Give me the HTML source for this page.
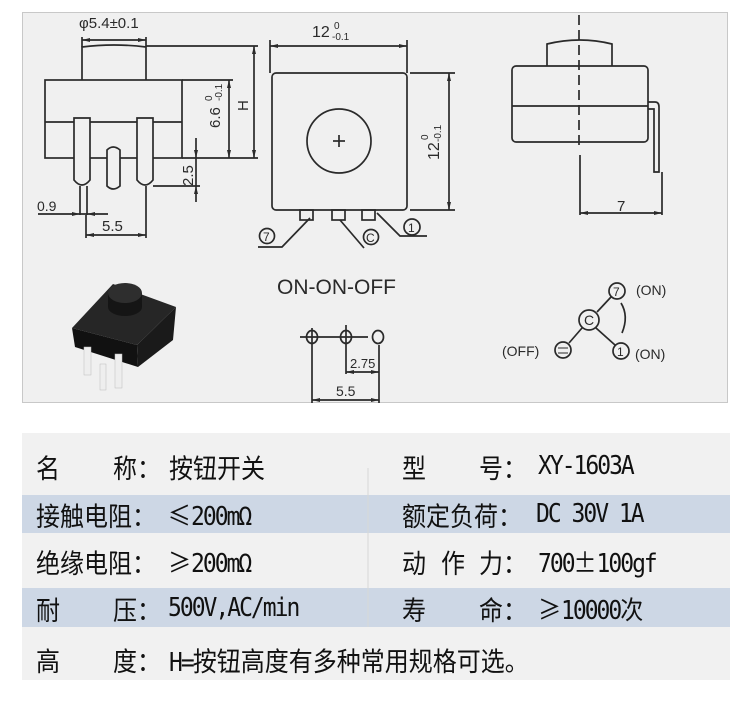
<!DOCTYPE html>
<html><head><meta charset="utf-8"><style>
body{margin:0;background:#fff;width:750px;height:709px;overflow:hidden;position:relative;font-family:"Liberation Sans","Noto Sans CJK SC",sans-serif}
svg{position:absolute;left:0;top:0}
.t{position:absolute;font-family:"Noto Sans CJK SC","WenQuanYi Zen Hei",sans-serif;font-size:24px;color:#111;line-height:1;transform:scaleY(1.12);transform-origin:left center;white-space:nowrap}
.l{font-family:"DejaVu Sans Mono","Liberation Mono","Noto Sans CJK SC",monospace;letter-spacing:-2px;font-size:23px}
.c{font-family:"Noto Sans CJK SC",sans-serif;letter-spacing:0;font-size:23px}
</style></head><body>
<svg width="750" height="709" viewBox="0 0 750 709">
<rect x="22.5" y="12.5" width="705" height="390" fill="#f0f0f0" stroke="#c8c8c8"/>
<g stroke="#2a2a2a" stroke-width="1.7" fill="none">
<path d="M82 80 V47 Q114 43 146 47 V80"/>
<rect x="45" y="80" width="137" height="78"/>
<line x1="45" y1="122" x2="74" y2="122"/><line x1="90" y1="122" x2="137" y2="122"/><line x1="153" y1="122" x2="182" y2="122"/>
<path d="M74 118 V180 Q82 190 90 180 V118 Z" fill="#f0f0f0"/>
<path d="M137 118 V180 Q145 190 153 180 V118 Z" fill="#f0f0f0"/>
<path d="M107 186 V150 Q113 144 120 150 V186 Q113 192 107 186 Z" fill="#f0f0f0"/>
<line x1="80" y1="186" x2="80" y2="215"/><line x1="87" y1="186" x2="87" y2="215"/>
<line x1="82" y1="37" x2="82" y2="47"/><line x1="146" y1="37" x2="146" y2="47"/><line x1="82" y1="40" x2="146" y2="40"/>
<line x1="146" y1="46" x2="258" y2="46"/><line x1="182" y1="158" x2="258" y2="158"/><line x1="254" y1="46" x2="254" y2="158"/>
<line x1="182" y1="80" x2="233" y2="80"/><line x1="229" y1="80" x2="229" y2="158"/>
<line x1="196" y1="138" x2="196" y2="202"/><line x1="153" y1="186" x2="200" y2="186"/>
<line x1="38" y1="214" x2="108" y2="214"/>
<line x1="86" y1="215" x2="86" y2="238"/><line x1="146" y1="186" x2="146" y2="238"/><line x1="86" y1="235" x2="146" y2="235"/>
<rect x="272" y="73" width="135" height="137" rx="4"/>
<circle cx="339" cy="141" r="32"/>
<line x1="333" y1="141" x2="345" y2="141"/><line x1="339" y1="135" x2="339" y2="147"/>
<line x1="270" y1="40" x2="270" y2="73"/><line x1="407" y1="40" x2="407" y2="73"/><line x1="270" y1="46" x2="407" y2="46"/>
<line x1="410" y1="73" x2="455" y2="73"/><line x1="410" y1="210" x2="455" y2="210"/><line x1="449" y1="73" x2="449" y2="210"/>
<rect x="300" y="210" width="13" height="10"/><rect x="332" y="210" width="13" height="10"/><rect x="362" y="210" width="13" height="10"/>
<circle cx="267" cy="236" r="7.5"/><circle cx="371" cy="237" r="7.5"/><circle cx="412" cy="227" r="8"/>
<polyline points="258,247 282,247 310,218"/>
<line x1="340" y1="220" x2="364" y2="248"/>
<polyline points="377,213 400,236 427,236"/>
<line x1="300" y1="337" x2="368" y2="337"/>
<ellipse cx="312" cy="337" rx="5.5" ry="6.5"/><ellipse cx="346" cy="337" rx="5.5" ry="6.5"/><ellipse cx="378" cy="337" rx="5.5" ry="6.5"/>
<line x1="312" y1="328" x2="312" y2="403"/><line x1="346" y1="325" x2="346" y2="374"/><line x1="379" y1="345" x2="379" y2="403"/>
<line x1="346" y1="372" x2="379" y2="372"/><line x1="312" y1="400" x2="379" y2="400"/>
<path d="M547 66 V44 Q580 36 612 44 V66"/>
<rect x="512" y="66" width="136" height="76" rx="4"/>
<line x1="512" y1="106" x2="648" y2="106"/>
<line x1="579" y1="15" x2="579" y2="145" stroke-dasharray="10,5"/>
<path d="M648 102 H655 Q659 102 659 107 V172 H654 V109 H648"/>
<line x1="580" y1="155" x2="580" y2="215"/><line x1="662" y1="172" x2="662" y2="215"/><line x1="580" y1="213" x2="662" y2="213"/>
<circle cx="617" cy="291" r="8"/><circle cx="589" cy="320" r="10"/><circle cx="563" cy="350" r="8"/><circle cx="621" cy="351" r="8"/>
<line x1="611" y1="297" x2="597" y2="312"/><line x1="582" y1="328" x2="569" y2="343"/><line x1="596" y1="328" x2="615" y2="345"/>
<path d="M621 303 Q629 316 622 333"/>
<line x1="558" y1="348" x2="568" y2="348" stroke-width="1"/><line x1="558" y1="353" x2="568" y2="353" stroke-width="1"/>
</g>
<g fill="#2a2a2a">
<polygon points="82,40 90,38 90,42"/><polygon points="146,40 138,38 138,42"/>
<polygon points="254,46 252,54 256,54"/><polygon points="254,158 252,150 256,150"/>
<polygon points="229,80 227,88 231,88"/><polygon points="229,158 227,150 231,150"/>
<polygon points="196,158 194,150 198,150"/><polygon points="196,186 194,194 198,194"/>
<polygon points="86,235 94,233 94,237"/><polygon points="146,235 138,233 138,237"/>
<polygon points="80,214 72,212 72,216"/><polygon points="87,214 95,212 95,216"/>
<polygon points="270,46 278,44 278,48"/><polygon points="407,46 399,44 399,48"/>
<polygon points="449,73 447,81 451,81"/><polygon points="449,210 447,202 451,202"/>
<polygon points="580,213 588,211 588,215"/><polygon points="662,213 654,211 654,215"/>
<polygon points="346,372 354,370 354,374"/><polygon points="379,372 371,370 371,374"/>
<polygon points="312,400 320,398 320,402"/><polygon points="379,400 371,398 371,402"/>
</g>
<g fill="#2a2a2a" font-family="Liberation Sans,sans-serif">
<text x="79" y="28" font-size="15">φ5.4±0.1</text>
<text x="37" y="211" font-size="14">0.9</text>
<text x="102" y="231" font-size="15">5.5</text>
<text transform="translate(248,111) rotate(-90)" font-size="15">H</text>
<text transform="translate(220,128) rotate(-90)" font-size="15">6.6</text>
<text transform="translate(212,101) rotate(-90)" font-size="10">0</text>
<text transform="translate(222,101) rotate(-90)" font-size="10">-0.1</text>
<text transform="translate(193,186) rotate(-90)" font-size="15">2.5</text>
<text x="312" y="37" font-size="16">12</text><text x="334" y="29" font-size="10">0</text><text x="332" y="40" font-size="10">-0.1</text>
<text transform="translate(439,160) rotate(-90)" font-size="16">12</text>
<text transform="translate(428,140) rotate(-90)" font-size="10">0</text>
<text transform="translate(441,142) rotate(-90)" font-size="10">-0.1</text>
<text x="263" y="241" font-size="12">7</text><text x="366" y="242" font-size="12">C</text><text x="408" y="232" font-size="12">1</text>
<text x="277" y="294" font-size="21">ON-ON-OFF</text>
<text x="350" y="368" font-size="13">2.75</text>
<text x="336" y="396" font-size="14">5.5</text>
<text x="617" y="211" font-size="15">7</text>
<text x="613" y="296" font-size="12">7</text><text x="636" y="295" font-size="14">(ON)</text>
<text x="584" y="325" font-size="14">C</text>
<text x="502" y="356" font-size="14">(OFF)</text>
<text x="617" y="356" font-size="12">1</text><text x="635" y="359" font-size="14">(ON)</text>
</g>
<g>
<polygon points="72,328 113,284 176,307 137,345" fill="#262626"/>
<polygon points="72,328 137,345 138,367 75,347" fill="#111"/>
<polygon points="137,345 176,307 173,340 138,367" fill="#1a1a1a"/>
<rect x="108" y="293" width="34" height="14" fill="#151515"/>
<ellipse cx="125" cy="307" rx="17" ry="9" fill="#151515"/>
<ellipse cx="125" cy="293" rx="17" ry="10" fill="#2e2e2e"/>
<rect x="84" y="347" width="7" height="28" fill="#eee" stroke="#bbb" stroke-width="0.5"/>
<rect x="100" y="364" width="6" height="26" fill="#eee" stroke="#bbb" stroke-width="0.5"/>
<rect x="115" y="354" width="7" height="34" fill="#eee" stroke="#bbb" stroke-width="0.5"/>
</g>
<rect x="22" y="433" width="708" height="247" fill="#f1f1f1"/>
<rect x="22" y="495" width="708" height="38" fill="#cdd7e5"/>
<rect x="22" y="588" width="708" height="39" fill="#cdd7e5"/>
<line x1="368" y1="468" x2="368" y2="627" stroke="#d8d8d8"/>
</svg>
<div class="t" style="left:36px;top:455px">名</div><div class="t" style="left:113px;top:455px">称：</div><div class="t" style="left:169px;top:455px">按钮开关</div>
<div class="t" style="left:402px;top:455px">型</div><div class="t" style="left:479px;top:455px">号：</div><div class="t l" style="left:538px;top:455px">XY-1603A</div>
<div class="t" style="left:36px;top:503px">接触电阻：</div><div class="t l" style="left:168px;top:503px"><span class="c">≤</span>200mΩ</div>
<div class="t" style="left:402px;top:503px">额定负荷：</div><div class="t l" style="left:536px;top:503px">DC 30V 1A</div>
<div class="t" style="left:36px;top:550px">绝缘电阻：</div><div class="t l" style="left:168px;top:550px"><span class="c">≥</span>200mΩ</div>
<div class="t" style="left:402px;top:550px">动</div><div class="t" style="left:441px;top:550px">作</div><div class="t" style="left:479px;top:550px">力：</div><div class="t l" style="left:538px;top:550px">700<span class="c">±</span>100gf</div>
<div class="t" style="left:36px;top:597px">耐</div><div class="t" style="left:113px;top:597px">压：</div><div class="t l" style="left:168px;top:597px">500V,AC/min</div>
<div class="t" style="left:402px;top:597px">寿</div><div class="t" style="left:479px;top:597px">命：</div><div class="t l" style="left:538px;top:597px"><span class="c">≥</span>10000次</div>
<div class="t" style="left:36px;top:648px">高</div><div class="t" style="left:113px;top:648px">度：</div><div class="t" style="left:169px;top:648px"><span class="l">H=</span>按钮高度有多种常用规格可选。</div>
</body></html>
